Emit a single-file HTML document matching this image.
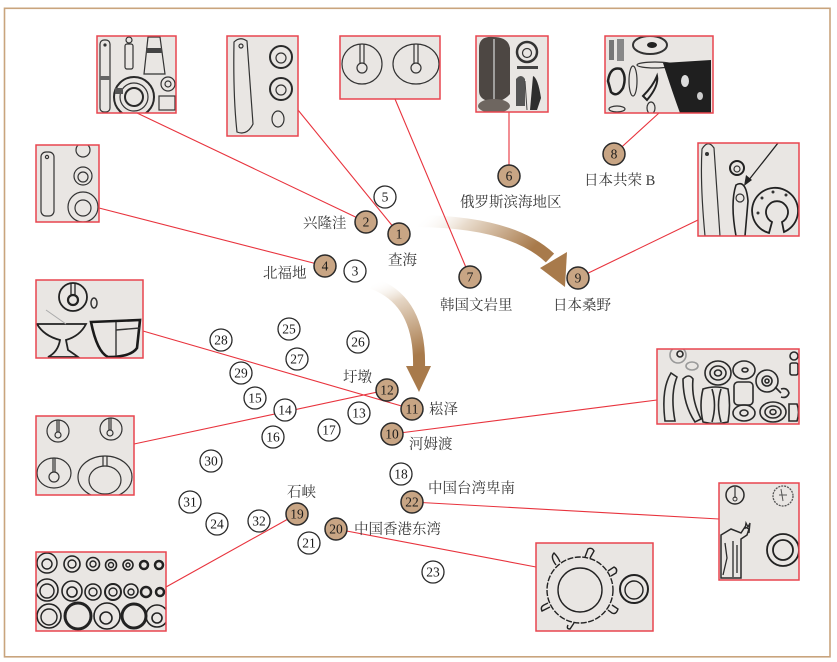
<!DOCTYPE html>
<html><head><meta charset="utf-8"><style>
html,body{margin:0;padding:0;background:#fff;}
svg{display:block;}
.t{font-family:"Liberation Serif","Noto Serif CJK SC","Noto Sans CJK SC",serif;font-size:14.5px;fill:#3a3a3a;}
.n{font-family:"Liberation Serif",serif;font-size:13.5px;fill:#1a1a1a;text-anchor:middle;}
.s{fill:none;stroke:#333;stroke-width:1.2;}
.s2{fill:none;stroke:#2a2a2a;stroke-width:2;}
.d{fill:#333;stroke:none;}
</style></head><body>
<svg width="837" height="662" viewBox="0 0 837 662" xmlns="http://www.w3.org/2000/svg">
<defs>
<linearGradient id="g1" x1="0" y1="0" x2="1" y2="0.3">
<stop offset="0" stop-color="#ffffff" stop-opacity="0"/>
<stop offset="0.35" stop-color="#e9dccd"/>
<stop offset="1" stop-color="#a87a4b"/>
</linearGradient>
<linearGradient id="g2" x1="0" y1="0" x2="0.2" y2="1">
<stop offset="0" stop-color="#ffffff" stop-opacity="0"/>
<stop offset="0.3" stop-color="#e6d7c6"/>
<stop offset="1" stop-color="#a87a4b"/>
</linearGradient>
</defs>
<rect x="0" y="0" width="837" height="662" fill="#fff"/>
<rect x="4.5" y="8.3" width="825.5" height="648.5" fill="none" stroke="#c9a47d" stroke-width="1.6"/>

<!-- arrows -->
<path d="M418,221 Q512,222 550,258" fill="none" stroke="url(#g1)" stroke-width="12"/>
<path d="M540,268 L567,252 L565,287 Z" fill="#a87a4b"/>
<path d="M372,283 Q421,300 419,368" fill="none" stroke="url(#g2)" stroke-width="12"/>
<path d="M406,366 L431,366 L419,392 Z" fill="#a87a4b"/>

<!-- connector lines -->
<g stroke="#e8333d" stroke-width="1.1" fill="none">
<line x1="137" y1="113" x2="366" y2="222"/>
<line x1="298" y1="110" x2="399" y2="234"/>
<line x1="395" y1="99" x2="470" y2="277"/>
<line x1="99" y1="208" x2="325" y2="266"/>
<line x1="509" y1="112" x2="509" y2="176"/>
<line x1="659" y1="113" x2="614" y2="154"/>
<line x1="698" y1="220" x2="578" y2="278"/>
<line x1="143" y1="331" x2="412" y2="409"/>
<line x1="134" y1="444" x2="387" y2="390"/>
<line x1="166" y1="587" x2="297" y2="514"/>
<line x1="657" y1="400" x2="392" y2="434"/>
<line x1="719" y1="519" x2="412" y2="502"/>
<line x1="536" y1="567" x2="336" y2="529"/>
</g>

<!-- Box A -->
<svg x="97" y="36" width="79" height="77" overflow="hidden">
<rect width="79" height="77" fill="#e9e6e3"/>
<rect class="s" x="3" y="4" width="10" height="72" rx="4"/>
<circle class="d" cx="8" cy="9" r="1.6"/>
<rect x="3" y="40" width="10" height="4" fill="#666"/>
<circle class="s" cx="32" cy="4" r="3"/>
<rect class="s" x="28" y="8" width="8" height="25" rx="2"/>
<path class="s" d="M51,1 L63,1 L68,38 L47,38 Z"/>
<rect x="49" y="12" width="16" height="5" fill="#444"/>
<circle class="s2" cx="37" cy="61" r="20"/>
<circle class="s" cx="37" cy="61" r="14"/>
<circle class="s2" cx="37" cy="61" r="9"/>
<rect x="18" y="52" width="8" height="6" fill="#555"/>
<circle class="s" cx="71" cy="48" r="7"/>
<circle class="s" cx="71" cy="48" r="3"/>
<rect class="s" x="62" y="60" width="16" height="14"/>
</svg>
<rect x="97" y="36" width="79" height="77" fill="none" stroke="#e8454f" stroke-width="1.5"/>

<!-- Box B -->
<svg x="227" y="36" width="71" height="100" overflow="hidden">
<rect width="71" height="100" fill="#e9e6e3"/>
<path class="s" d="M7,6 Q13,0 20,5 L26,88 Q20,100 10,96 Q6,60 7,6 Z"/>
<circle class="s" cx="14" cy="10" r="2"/>
<circle class="s2" cx="54" cy="21" r="11"/><circle class="s" cx="54" cy="22" r="5"/>
<circle class="s2" cx="54" cy="53" r="11"/><circle class="s" cx="54" cy="54" r="5"/>
<ellipse class="s" cx="51" cy="83" rx="6" ry="8"/>
</svg>
<rect x="227" y="36" width="71" height="100" fill="none" stroke="#e8454f" stroke-width="1.5"/>

<!-- Box C -->
<svg x="340" y="36" width="100" height="63" overflow="hidden">
<rect width="100" height="63" fill="#e9e6e3"/>
<circle class="s" cx="22" cy="28" r="20"/>
<circle class="s" cx="22" cy="32" r="5"/>
<path class="s" d="M20,8 L20,27 M24,8 L24,27"/>
<ellipse class="s" cx="76" cy="28" rx="23" ry="20"/>
<circle class="s" cx="76" cy="32" r="5"/>
<path class="s" d="M74,8 L74,27 M78,8 L78,27"/>
</svg>
<rect x="340" y="36" width="100" height="63" fill="none" stroke="#e8454f" stroke-width="1.5"/>

<!-- Box D -->
<svg x="36" y="145" width="63" height="77" overflow="hidden">
<rect width="63" height="77" fill="#e9e6e3"/>
<rect class="s" x="5" y="7" width="13" height="64" rx="5"/>
<circle class="s" cx="11" cy="12" r="1.6"/>
<circle class="s" cx="47" cy="5" r="7"/>
<circle class="s" cx="47" cy="31" r="9"/><circle class="s" cx="47" cy="32" r="5"/>
<circle class="s" cx="47" cy="62" r="15"/><circle class="s" cx="47" cy="63" r="8"/>
</svg>
<rect x="36" y="145" width="63" height="77" fill="none" stroke="#e8454f" stroke-width="1.5"/>

<!-- Box E -->
<svg x="476" y="36" width="72" height="76" overflow="hidden">
<rect width="72" height="76" fill="#e9e6e3"/>
<path d="M3,12 Q3,0 17,1 Q32,1 34,12 L34,58 Q27,66 16,66 Q3,64 3,55 Z" fill="#4d4743"/>
<path d="M18,3 L18,64" stroke="#bbb" stroke-width="1.5"/>
<ellipse cx="18" cy="70" rx="16" ry="7" fill="#6e6660"/>
<circle cx="51" cy="16" r="10" fill="none" stroke="#333" stroke-width="2.5"/>
<circle class="s" cx="51" cy="17" r="4.5"/>
<rect x="41" y="30" width="21" height="3" fill="#444"/>
<path d="M40,43 Q45,37 49,43 L49,70 L40,70 Z" fill="#555"/>
<path d="M57,40 Q62,42 65,62 L61,74 L54,74 Z" fill="#2e2e2e"/>
<path d="M49,45 L51,74" stroke="#444" stroke-width="1"/>
</svg>
<rect x="476" y="36" width="72" height="76" fill="none" stroke="#e8454f" stroke-width="1.5"/>

<!-- Box F -->
<svg x="605" y="36" width="108" height="77" overflow="hidden">
<rect width="108" height="77" fill="#e9e6e3"/>
<rect x="4" y="4" width="5" height="20" fill="#777"/>
<rect x="12" y="3" width="7" height="22" fill="#888"/>
<ellipse cx="45" cy="9" rx="17" ry="9" fill="none" stroke="#333" stroke-width="2"/>
<ellipse cx="47" cy="9" rx="5" ry="3" fill="#222"/>
<ellipse class="s" cx="50" cy="29" rx="18" ry="3"/>
<path d="M58,27 L106,24 L106,77 L75,77 Q68,58 58,27 Z" fill="#1f1f1f"/>
<ellipse cx="80" cy="45" rx="4" ry="6" fill="#ddd"/>
<ellipse cx="95" cy="60" rx="3" ry="4" fill="#ccc"/>
<path d="M3,45 Q5,30 16,33 Q22,40 18,52 Q12,62 6,56 Z" fill="none" stroke="#222" stroke-width="2.5"/>
<ellipse class="s" cx="28" cy="45" rx="4" ry="15"/>
<path d="M38,60 Q48,50 52,40 Q54,50 42,64 Z" fill="none" stroke="#222" stroke-width="2"/>
<ellipse class="s" cx="12" cy="73" rx="8" ry="3"/>
<ellipse class="s" cx="46" cy="72" rx="4" ry="6"/>
</svg>
<rect x="605" y="36" width="108" height="77" fill="none" stroke="#e8454f" stroke-width="1.5"/>

<!-- Box G -->
<svg x="698" y="143" width="101" height="93" overflow="hidden">
<rect width="101" height="93" fill="#e9e6e3"/>
<path class="s" d="M4,6 Q10,-4 16,5 L22,93 L7,93 Q2,40 4,6 Z"/>
<circle class="d" cx="9" cy="11" r="2"/>
<circle cx="39" cy="25" r="7" fill="none" stroke="#222" stroke-width="2"/>
<circle class="s" cx="39" cy="26" r="3"/>
<line x1="80" y1="0" x2="50" y2="38" stroke="#222" stroke-width="1.3"/>
<path d="M46,43 L48,32 L54,37 Z" fill="#222"/>
<path d="M38,42 Q48,36 50,58 L47,93 L38,93 Q32,60 38,42 Z" fill="none" stroke="#222" stroke-width="1.6"/>
<circle class="s" cx="42" cy="55" r="4"/>
<path d="M71,90 A23,23 0 1,1 86,89 L84,79 A11,11 0 1,0 74,79 Z" fill="none" stroke="#222" stroke-width="1.8"/>
<circle class="d" cx="64" cy="55" r="1.5"/><circle class="d" cx="75" cy="49" r="1.5"/>
<circle class="d" cx="88" cy="52" r="1.5"/><circle class="d" cx="60" cy="70" r="1.5"/>
</svg>
<rect x="698" y="143" width="101" height="93" fill="none" stroke="#e8454f" stroke-width="1.5"/>

<!-- Box H -->
<svg x="36" y="280" width="107" height="78" overflow="hidden">
<rect width="107" height="78" fill="#e9e6e3"/>
<circle cx="37" cy="17" r="14" fill="none" stroke="#222" stroke-width="1.8"/>
<circle cx="37" cy="20" r="5" fill="none" stroke="#222" stroke-width="2.2"/>
<path d="M35,3 L35,15 M39,3 L39,15" stroke="#222" stroke-width="1.3"/>
<ellipse cx="58" cy="23" rx="3" ry="5" fill="none" stroke="#333" stroke-width="1.5"/>
<path d="M1,44 L50,44 Q44,56 30,60 L32,70 Q38,74 42,77 L12,77 Q22,72 24,60 Q8,56 1,44 Z" fill="none" stroke="#222" stroke-width="1.8"/>
<line x1="10" y1="30" x2="30" y2="44" stroke="#aaa" stroke-width="1"/>
<path d="M55,42 L104,40 L101,68 Q95,77 72,77 Q61,72 55,42 Z" fill="none" stroke="#1a1a1a" stroke-width="2.6"/>
<path d="M80,42 L80,76" stroke="#333" stroke-width="1.4"/>
<path d="M80,50 L104,48" stroke="#333" stroke-width="1.4"/>
</svg>
<rect x="36" y="280" width="107" height="78" fill="none" stroke="#e8454f" stroke-width="1.5"/>

<!-- Box I -->
<svg x="36" y="416" width="98" height="79" overflow="hidden">
<rect width="98" height="79" fill="#e9e6e3"/>
<circle class="s" cx="22" cy="15" r="11"/><circle class="s" cx="22" cy="19" r="3"/>
<path class="s" d="M21,4 L21,16 M23,4 L23,16"/>
<circle class="s" cx="75" cy="13" r="11"/><circle class="s" cx="74" cy="17" r="3"/>
<path class="s" d="M73,2 L73,14 M75,2 L75,14"/>
<ellipse class="s" cx="18" cy="57" rx="17" ry="15"/><circle class="s" cx="18" cy="61" r="5"/>
<path class="s" d="M17,42 L17,56 M19,42 L19,56"/>
<ellipse class="s" cx="69" cy="61" rx="27" ry="21"/><ellipse class="s" cx="69" cy="64" rx="16" ry="14"/>
<path class="s" d="M67,40 L67,50 M71,40 L71,50"/>
</svg>
<rect x="36" y="416" width="98" height="79" fill="none" stroke="#e8454f" stroke-width="1.5"/>

<!-- Box J -->
<svg x="36" y="552" width="130" height="79" overflow="hidden">
<rect width="130" height="79" fill="#e9e6e3"/>
<g fill="none" stroke="#222">
<circle cx="11" cy="11" r="10" stroke-width="1.4"/><circle cx="11" cy="12" r="5" stroke-width="1.4"/>
<circle cx="36" cy="12" r="8" stroke-width="1.6"/><circle cx="36" cy="12" r="4" stroke-width="1.4"/>
<circle cx="57" cy="12" r="6.5" stroke-width="1.6"/><circle cx="57" cy="12" r="3" stroke-width="1.4"/>
<circle cx="75" cy="13" r="5.5" stroke-width="1.6"/><circle cx="75" cy="13" r="2.5" stroke-width="1.4"/>
<circle cx="92" cy="13" r="5" stroke-width="1.6"/><circle cx="92" cy="13" r="2" stroke-width="1.4"/>
<circle cx="108" cy="13" r="4" stroke-width="2.5"/>
<circle cx="123" cy="13" r="4" stroke-width="2.5"/>
<circle cx="11" cy="38" r="11" stroke-width="1.6"/><circle cx="11" cy="39" r="7" stroke-width="1.4"/>
<circle cx="36" cy="39" r="10" stroke-width="1.6"/><circle cx="36" cy="40" r="5" stroke-width="1.6"/>
<circle cx="57" cy="40" r="8" stroke-width="1.6"/><circle cx="57" cy="40" r="4" stroke-width="1.4"/>
<circle cx="77" cy="40" r="8" stroke-width="2"/><circle cx="77" cy="40" r="4" stroke-width="1.4"/>
<circle cx="95" cy="39" r="7" stroke-width="1.6"/><circle cx="95" cy="40" r="3" stroke-width="1.4"/>
<circle cx="110" cy="40" r="5" stroke-width="2.5"/>
<circle cx="124" cy="40" r="4" stroke-width="2.5"/>
<circle cx="13" cy="64" r="12" stroke-width="1.6"/><circle cx="13" cy="65" r="8" stroke-width="1.4"/>
<circle cx="42" cy="64" r="13" stroke-width="3"/>
<circle cx="71" cy="64" r="13" stroke-width="1.6"/><circle cx="70" cy="66" r="6" stroke-width="1.6"/>
<circle cx="98" cy="64" r="12" stroke-width="3"/>
<circle cx="121" cy="64" r="11" stroke-width="1.6"/><circle cx="121" cy="66" r="5" stroke-width="1.6"/>
</g>
</svg>
<rect x="36" y="552" width="130" height="79" fill="none" stroke="#e8454f" stroke-width="1.5"/>

<!-- Box K -->
<svg x="657" y="349" width="142" height="75" overflow="hidden">
<rect width="142" height="75" fill="#e9e6e3"/>
<g fill="none" stroke="#2a2a2a" stroke-width="1.6">
<circle cx="21" cy="6" r="8" stroke="#999"/>
<circle cx="23" cy="5" r="3"/>
<ellipse cx="35" cy="17" rx="6" ry="4" stroke="#999"/>
<path d="M8,72 Q4,40 14,24 L20,28 Q13,45 18,72 Z"/>
<path d="M26,30 Q32,24 36,30 Q34,50 44,70 L38,73 Q26,55 26,30 Z"/>
<ellipse cx="61" cy="24" rx="13" ry="12"/><ellipse cx="61" cy="24" rx="8" ry="7"/><ellipse cx="61" cy="24" rx="3.5" ry="3"/>
<path d="M46,40 Q58,36 71,40 Q74,56 71,73 Q58,76 46,73 Q42,56 46,40 Z"/>
<path d="M55,40 Q60,56 55,73 M64,40 Q59,56 64,73"/>
<ellipse cx="87" cy="21" rx="11" ry="9"/><ellipse cx="88" cy="21" rx="3" ry="2"/>
<rect x="77" y="33" width="19" height="23" rx="4"/>
<ellipse cx="87" cy="64" rx="11" ry="8"/><ellipse cx="87" cy="64" rx="4" ry="3"/>
<circle cx="110" cy="32" r="11"/><circle cx="110" cy="32" r="5"/><circle cx="110" cy="32" r="2"/>
<path d="M118,38 L124,44 M124,40 Q130,38 132,44 Q130,50 124,48"/>
<circle cx="137" cy="7" r="4"/>
<rect x="133" y="14" width="8" height="12" rx="2"/>
<ellipse cx="116" cy="63" rx="13" ry="10"/><ellipse cx="116" cy="63" rx="8" ry="6"/><ellipse cx="116" cy="63" rx="3" ry="2.5"/>
<path d="M132,55 L140,55 Q143,63 140,72 L132,72 Z"/>
</g>
</svg>
<rect x="657" y="349" width="142" height="75" fill="none" stroke="#e8454f" stroke-width="1.5"/>

<!-- Box L -->
<svg x="719" y="483" width="80" height="97" overflow="hidden">
<rect width="80" height="97" fill="#e9e6e3"/>
<circle cx="16" cy="12" r="9" fill="none" stroke="#2a2a2a" stroke-width="1.5"/>
<path d="M16,4 L16,15" stroke="#333" stroke-width="1.2"/>
<circle cx="16" cy="16" r="2" fill="none" stroke="#333"/>
<circle cx="64" cy="13" r="10" fill="none" stroke="#555" stroke-width="1.3" stroke-dasharray="2 1"/>
<path d="M62,6 L64,18 M60,12 L68,12" stroke="#555"/>
<path d="M2,52 L12,46 L22,50 L26,44 L30,46 L28,52 L22,56 L22,95 L2,95 Z" fill="none" stroke="#2a2a2a" stroke-width="1.5"/>
<path d="M26,46 L27,40 L29,44 L31,40 L30,50 M14,58 L14,94 M6,60 L8,75 L4,92 M18,62 L18,90" stroke="#2a2a2a" stroke-width="1.3" fill="none"/>
<circle cx="64" cy="67" r="16" fill="none" stroke="#222" stroke-width="1.8"/>
<circle cx="64" cy="67" r="10" fill="none" stroke="#222" stroke-width="1.8"/>
</svg>
<rect x="719" y="483" width="80" height="97" fill="none" stroke="#e8454f" stroke-width="1.5"/>

<!-- Box M -->
<svg x="536" y="543" width="117" height="88" overflow="hidden">
<rect width="117" height="88" fill="#e9e6e3"/>
<g fill="none" stroke="#222" stroke-width="1.4">
<circle cx="44" cy="47" r="33" stroke-dasharray="6 1.5"/>
<circle cx="44" cy="47" r="22"/>
<path d="M20,22 Q14,14 18,10 Q22,14 24,19"/>
<path d="M49,14 L52,6 Q56,4 58,8 L54,15"/>
<path d="M72,28 L78,24 Q82,26 80,30 L75,33"/>
<path d="M76,62 L82,66 Q80,72 76,70 L72,67"/>
<path d="M38,80 L34,86 Q30,86 32,82"/>
<path d="M14,64 L6,68 Q4,64 8,62 L12,60"/>
<circle cx="98" cy="46" r="14" stroke-width="2"/>
<circle cx="98" cy="47" r="9"/>
</g>
</svg>
<rect x="536" y="543" width="117" height="88" fill="none" stroke="#e8454f" stroke-width="1.5"/>

<!-- circles -->
<g stroke="#2a2a2a" stroke-width="1.5">
<g fill="#c8a584">
<circle cx="399" cy="234" r="11"/>
<circle cx="366" cy="222" r="11"/>
<circle cx="325" cy="266" r="11"/>
<circle cx="509" cy="176" r="11"/>
<circle cx="470" cy="277" r="11"/>
<circle cx="614" cy="154" r="11"/>
<circle cx="578" cy="278" r="11"/>
<circle cx="392" cy="434" r="11"/>
<circle cx="412" cy="409" r="11"/>
<circle cx="387" cy="390" r="11"/>
<circle cx="297" cy="514" r="11"/>
<circle cx="336" cy="529" r="11"/>
<circle cx="412" cy="502" r="11"/>
</g>
<g fill="#fff" stroke-width="1.3">
<circle cx="355" cy="271" r="11"/>
<circle cx="385" cy="197" r="11"/>
<circle cx="359" cy="413" r="11"/>
<circle cx="285" cy="410" r="11"/>
<circle cx="255" cy="398" r="11"/>
<circle cx="273" cy="437" r="11"/>
<circle cx="329" cy="430" r="11"/>
<circle cx="401" cy="474" r="11"/>
<circle cx="309" cy="543" r="11"/>
<circle cx="433" cy="572" r="11"/>
<circle cx="217" cy="524" r="11"/>
<circle cx="289" cy="329" r="11"/>
<circle cx="358" cy="342" r="11"/>
<circle cx="297" cy="359" r="11"/>
<circle cx="221" cy="340" r="11"/>
<circle cx="241" cy="373" r="11"/>
<circle cx="211" cy="461" r="11"/>
<circle cx="190" cy="502" r="11"/>
<circle cx="259" cy="521" r="11"/>
</g>
</g>

<g class="n">
<text x="399" y="238.5" class="n">1</text>
<text x="366" y="226.5" class="n">2</text>
<text x="355" y="275.5" class="n">3</text>
<text x="325" y="270.5" class="n">4</text>
<text x="385" y="201.5" class="n">5</text>
<text x="509" y="180.5" class="n">6</text>
<text x="470" y="281.5" class="n">7</text>
<text x="614" y="158.5" class="n">8</text>
<text x="578" y="282.5" class="n">9</text>
<text x="392" y="438.5" class="n">10</text>
<text x="412" y="413.5" class="n">11</text>
<text x="387" y="394.5" class="n">12</text>
<text x="359" y="417.5" class="n">13</text>
<text x="285" y="414.5" class="n">14</text>
<text x="255" y="402.5" class="n">15</text>
<text x="273" y="441.5" class="n">16</text>
<text x="329" y="434.5" class="n">17</text>
<text x="401" y="478.5" class="n">18</text>
<text x="297" y="518.5" class="n">19</text>
<text x="336" y="533.5" class="n">20</text>
<text x="309" y="547.5" class="n">21</text>
<text x="412" y="506.5" class="n">22</text>
<text x="433" y="576.5" class="n">23</text>
<text x="217" y="528.5" class="n">24</text>
<text x="289" y="333.5" class="n">25</text>
<text x="358" y="346.5" class="n">26</text>
<text x="297" y="363.5" class="n">27</text>
<text x="221" y="344.5" class="n">28</text>
<text x="241" y="377.5" class="n">29</text>
<text x="211" y="465.5" class="n">30</text>
<text x="190" y="506.5" class="n">31</text>
<text x="259" y="525.5" class="n">32</text>
</g>

<!-- labels -->
<text class="t" x="303" y="228">兴隆洼</text>
<text class="t" x="388" y="265">查海</text>
<text class="t" x="263" y="278">北福地</text>
<text class="t" x="460" y="207">俄罗斯滨海地区</text>
<text class="t" x="584" y="185">日本共荣 B</text>
<text class="t" x="440" y="310">韩国文岩里</text>
<text class="t" x="553" y="310">日本桑野</text>
<text class="t" x="343" y="382">圩墩</text>
<text class="t" x="429" y="414">崧泽</text>
<text class="t" x="409" y="449">河姆渡</text>
<text class="t" x="428" y="493">中国台湾卑南</text>
<text class="t" x="287" y="497">石峡</text>
<text class="t" x="354" y="534">中国香港东湾</text>
</svg>
</body></html>
